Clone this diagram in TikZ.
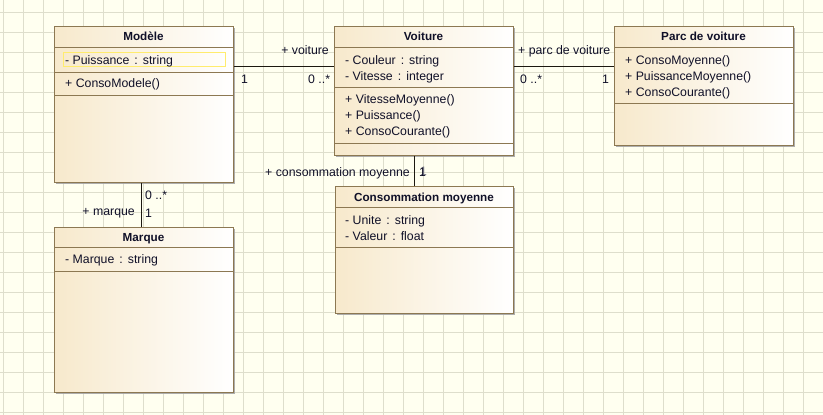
\documentclass[tikz,border=0pt]{standalone}
\usepackage{fontspec}
\setmainfont{Liberation Sans}
\usetikzlibrary{shadows,calc}
\definecolor{bg}{RGB}{255,255,240}
\definecolor{gridc}{RGB}{222,222,204}
\definecolor{boxl}{RGB}{247,233,204}
\definecolor{boxb}{RGB}{140,120,82}
\definecolor{txt}{RGB}{16,16,40}
\definecolor{hl}{RGB}{255,236,110}
\newcommand{\typsep}{\ \hspace{1.6pt}:\hspace{1.6pt}\ }
\tikzset{
  umlclass/.style={draw=boxb, line width=0.9pt, rectangle, inner sep=0pt, anchor=north west,
    left color=boxl, right color=white,
    drop shadow={shadow xshift=2pt, shadow yshift=-2pt, fill=black!35, opacity=0.9}},
  divider/.style={draw=boxb, line width=0.9pt},
  conn/.style={draw=black!80!boxb, line width=0.9pt},
  member/.style={anchor=base west, inner sep=0pt, text=txt, font=\fontsize{12.3}{14}\selectfont},
  lbl/.style={anchor=base west, inner sep=0pt, text=txt, font=\fontsize{12.3}{14}\selectfont},
  lble/.style={anchor=base east, inner sep=0pt, text=txt, font=\fontsize{12.3}{14}\selectfont},
  title/.style={anchor=base, inner sep=0pt, text=txt, font=\bfseries\fontsize{11.7}{14}\selectfont}
}
\begin{document}
\begin{tikzpicture}[x=1pt,y=-1pt]
\useasboundingbox (0,0) rectangle (823,415);
\fill[bg] (0,0) rectangle (823,415);
\foreach \gx in {3,23,...,823} \draw[gridc, line width=0.8pt] (\gx,0) -- (\gx,415);
\foreach \gy in {12,32,...,415} \draw[gridc, line width=0.8pt] (0,\gy) -- (823,\gy);

% boxes
\node[umlclass, minimum width=179pt, minimum height=156pt] (m) at (54,26) {};
\node[umlclass, minimum width=179pt, minimum height=129pt] (v) at (334,26) {};
\node[umlclass, minimum width=179pt, minimum height=119pt] (p) at (614,26) {};
\node[umlclass, minimum width=179pt, minimum height=165pt] (k) at (54,227) {};
\node[umlclass, minimum width=178pt, minimum height=127pt] (c) at (335,186) {};

% dividers
\draw[divider] ($(m.north west)+(0,21)$) -- ($(m.north east)+(0,21)$);
\draw[divider] ($(m.north west)+(0,46)$) -- ($(m.north east)+(0,46)$);
\draw[divider] ($(m.north west)+(0,69)$) -- ($(m.north east)+(0,69)$);
\draw[divider] ($(v.north west)+(0,21)$) -- ($(v.north east)+(0,21)$);
\draw[divider] ($(v.north west)+(0,61)$) -- ($(v.north east)+(0,61)$);
\draw[divider] ($(v.north west)+(0,117)$) -- ($(v.north east)+(0,117)$);
\draw[divider] ($(p.north west)+(0,21)$) -- ($(p.north east)+(0,21)$);
\draw[divider] ($(p.north west)+(0,77)$) -- ($(p.north east)+(0,77)$);
\draw[divider] ($(k.north west)+(0,20)$) -- ($(k.north east)+(0,20)$);
\draw[divider] ($(k.north west)+(0,44)$) -- ($(k.north east)+(0,44)$);
\draw[divider] ($(c.north west)+(0,21)$) -- ($(c.north east)+(0,21)$);
\draw[divider] ($(c.north west)+(0,61)$) -- ($(c.north east)+(0,61)$);

% highlight of selected attribute
\draw[hl, line width=0.8pt] (63,52) rectangle (225,66);

% texts Modele
\node[title] (mt) at (143.5,41) {Modèle};
\node[member] (m1) at (65,64) {- Puissance\typsep string};
\node[member] (m2) at (65,87) {+ ConsoModele()};
% Voiture
\node[title] (vt) at (423.5,41) {Voiture};
\node[member] (v1) at (345,64) {- Couleur\typsep string};
\node[member] (v2) at (345,80) {- Vitesse\typsep integer};
\node[member] (v3) at (345,103) {+ VitesseMoyenne()};
\node[member] (v4) at (345,119) {+ Puissance()};
\node[member] (v5) at (345,135) {+ ConsoCourante()};
% Parc
\node[title] (pt) at (703.5,41) {Parc de voiture};
\node[member] (p1) at (625,64) {+ ConsoMoyenne()};
\node[member] (p2) at (625,80) {+ PuissanceMoyenne()};
\node[member] (p3) at (625,96) {+ ConsoCourante()};
% Marque
\node[title] (kt) at (143.5,241) {Marque};
\node[member] (k1) at (65,263) {- Marque\typsep string};
% Consommation
\node[title] (ct) at (424,201) {Consommation moyenne};
\node[member] (c1) at (345,224) {- Unite\typsep string};
\node[member] (c2) at (345,240) {- Valeur\typsep float};

% connectors
\draw[conn] ([yshift=-40pt]m.north east) -- ([yshift=-40pt]v.north west);
\draw[conn] ([yshift=-40pt]v.north east) -- ([yshift=-40pt]p.north west);
\coordinate (vb) at ([xshift=80pt]v.south west);
\draw[conn] (vb) -- (vb |- c.north);
\coordinate (mb) at ([xshift=87pt]m.south west);
\draw[conn] (mb) -- (mb |- k.north);

% association labels
\node[lble] (l1) at (329,54) {+ voiture};
\node[lbl] (l2) at (241,83) {1};
\node[lbl] (l3) at (308,83) {0 ..*};
\node[lbl] (l4) at (518,54) {+ parc de voiture};
\node[lbl] (l5) at (520,83) {0 ..*};
\node[lbl] (l6) at (602,83) {1};
\node[lble] (l7) at (410,176) {+ consommation moyenne};
\node[lbl, text=txt!55] (l8b) at (419.8,175.5) {1};
\node[lbl] (l8) at (419,176) {1};
\node[lbl] (l9) at (145,199) {0 ..*};
\node[lbl] (l10) at (145,217) {1};
\node[lble] (l11) at (135,215) {+ marque};
\end{tikzpicture}
\end{document}
